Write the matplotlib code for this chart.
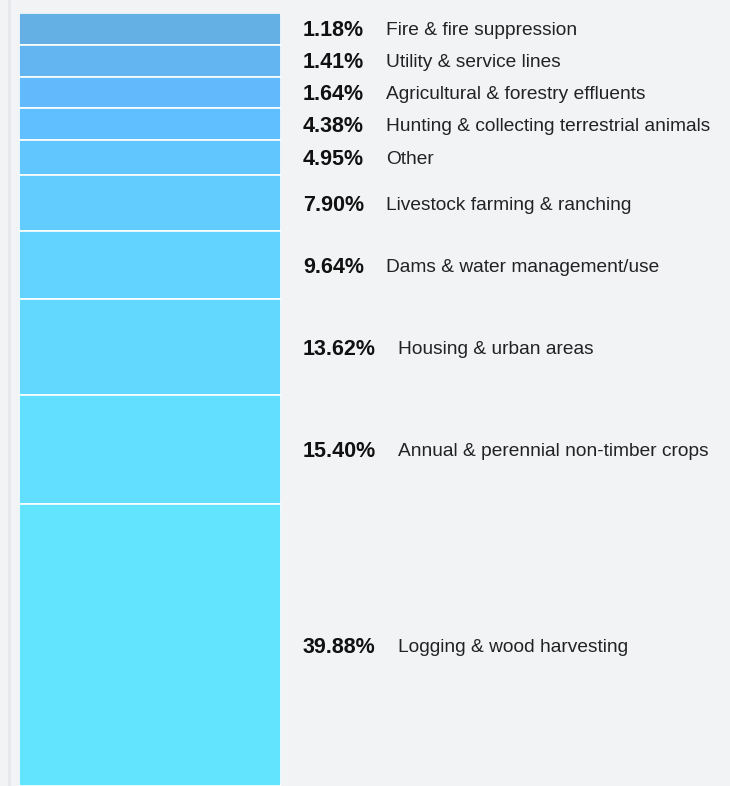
import matplotlib.pyplot as plt
import matplotlib.transforms as mtransforms

# threats, top to bottom, share of total (%)
labels = ["Fire & fire suppression", "Utility & service lines",
          "Agricultural & forestry effluents",
          "Hunting & collecting terrestrial animals", "Other",
          "Livestock farming & ranching", "Dams & water management/use",
          "Housing & urban areas", "Annual & perennial non-timber crops",
          "Logging & wood harvesting"]
values = [1.18, 1.41, 1.64, 4.38, 4.95, 7.90, 9.64, 13.62, 15.40, 39.88]
colors = ["#64afe4", "#62b5f0", "#62bafd", "#60bffe", "#62c6fe",
          "#62ccfe", "#62d2fe", "#62d8fe", "#62defe", "#63e4fe"]

min_h = 4.5  # small slices get a minimum height so the label fits
heights = [max(v, min_h) for v in values]

plt.rcParams['font.family'] = ['Liberation Sans', 'DejaVu Sans']
W, H = 730, 786
fig = plt.figure(figsize=(W / 100, H / 100), dpi=100)
fig.patch.set_facecolor("#f2f3f5")
ax = fig.add_axes([19 / W, 0, 262 / W, (H - 13) / H])
ax.set_facecolor("none")

# faint rule on the left edge
fig.add_artist(plt.Line2D([8.5 / W, 8.5 / W], [0, 1], color="#e6e7ea", lw=2))

bottom = 0
trans = mtransforms.blended_transform_factory(fig.transFigure, ax.transData)
trans = trans + mtransforms.ScaledTranslation(0, -2 / 100, fig.dpi_scale_trans)
for lab, v, h, c in zip(labels, values, heights, colors):
    ax.bar(0.5, h, width=1, bottom=bottom, color=c, edgecolor="#ffffff",
           linewidth=1.2)
    mid = bottom + h / 2
    t = ax.text(303 / W, mid, f"{v:.2f}%", transform=trans, fontsize=15.5,
                fontweight="bold", va="center", ha="left", color="#111111")
    ax.annotate(lab, xy=(1, 0.5), xycoords=t, xytext=(22, 0),
                textcoords="offset pixels", va="center", ha="left",
                fontsize=13.8, color="#222222")
    bottom += h

ax.set_xlim(0, 1)
ax.set_ylim(bottom, 0)
ax.axis("off")

fig.savefig("out.png", dpi=100, facecolor=fig.get_facecolor())
